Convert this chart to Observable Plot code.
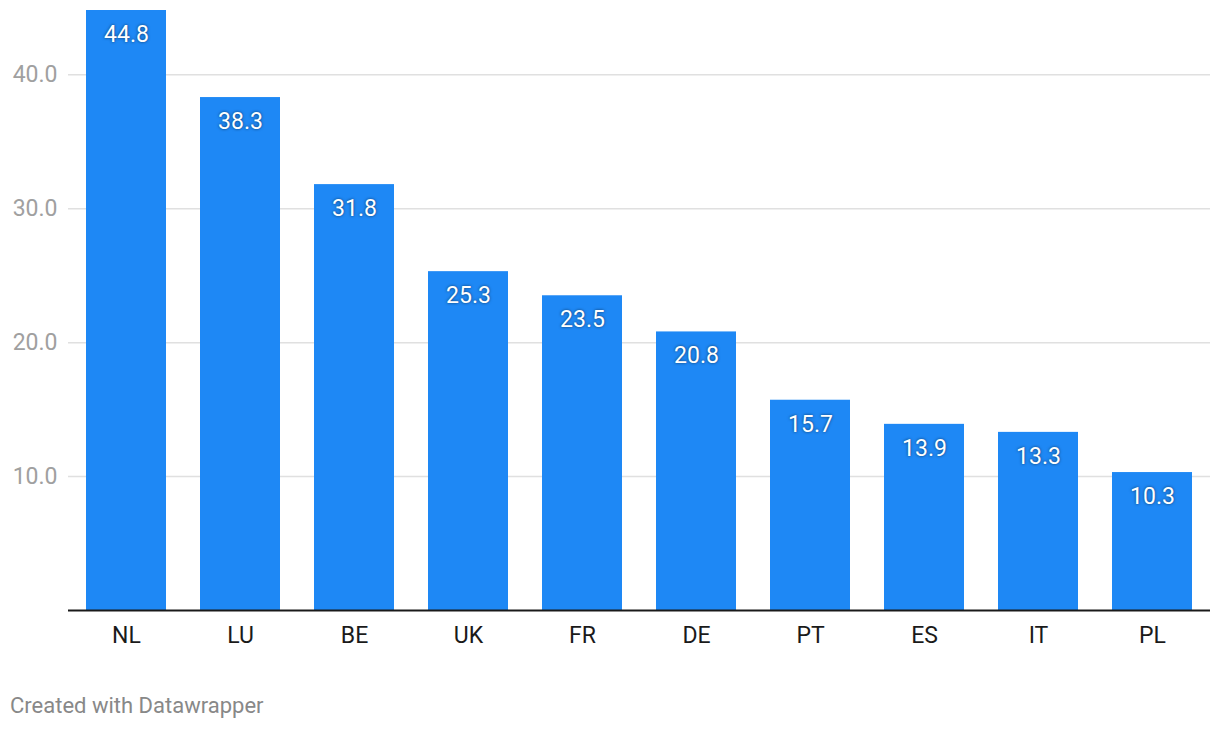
<!DOCTYPE html>
<html>
<head>
<meta charset="utf-8">
<script src="https://cdn.jsdelivr.net/npm/d3@7"></script>
<script src="https://cdn.jsdelivr.net/npm/@observablehq/plot@0.6"></script>
<style>
  html, body { margin: 0; padding: 0; background: #fff; }
  body { width: 1220px; height: 730px; overflow: hidden; font-family: Roboto, sans-serif; }
  #chart svg { display: block; }
  .vlabel text { text-shadow: 0 0 3px rgba(0,0,0,0.6); }
  #footer { position: absolute; left: 10px; top: 693px; font-size: 22px; color: #888; font-family: Roboto, sans-serif; }
</style>
</head>
<body>
<div id="chart"></div>
<div id="footer">Created with Datawrapper</div>
<script>
const countries = ["NL", "LU", "BE", "UK", "FR", "DE", "PT", "ES", "IT", "PL"];
const values = [44.8, 38.3, 31.8, 25.3, 23.5, 20.8, 15.7, 13.9, 13.3, 10.3];
const yTicks = [10, 20, 30, 40];

const data = countries.map((c, i) => ({country: c, value: values[i]}));

const chart = Plot.plot({
  width: 1220,
  height: 661,
  marginLeft: 68,
  marginRight: 10,
  marginTop: 10,
  marginBottom: 51,
  style: {fontFamily: "Roboto, sans-serif", background: "#fff"},
  x: {domain: countries, paddingInner: 0.3, paddingOuter: 0.15, label: null},
  y: {domain: [0, 44.8], label: null},
  marks: [
    Plot.ruleY(yTicks, {stroke: "#e0e0e0", strokeWidth: 1.5}),
    Plot.axisY(yTicks, {tickSize: 0, tickPadding: 11, tickFormat: d => d.toFixed(1), fontSize: 23, fill: "#a0a0a0", label: null}),
    Plot.barY(data, {x: "country", y: "value", fill: "#1e88f5"}),
    Plot.ruleY([0], {stroke: "#1a1a1a", strokeWidth: 2}),
    Plot.axisX({tickSize: 0, tickPadding: 16, fontSize: 23, fill: "#1a1a1a", label: null}),
    Plot.text(data, {x: "country", y: "value", text: d => d.value.toFixed(1), dy: 24, fill: "#fff", fontSize: 23, className: "vlabel"})
  ]
});
document.getElementById("chart").appendChild(chart);
</script>
</body>
</html>
